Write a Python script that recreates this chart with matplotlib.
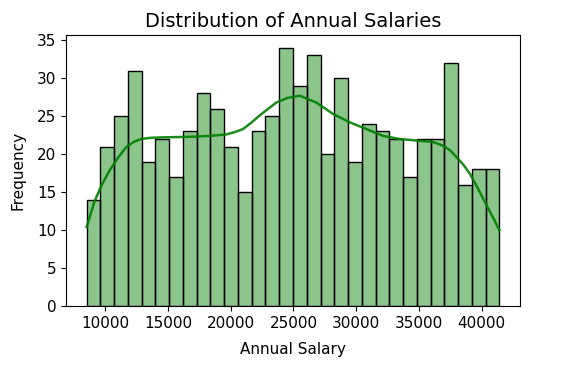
import matplotlib
matplotlib.use("Agg")
import matplotlib.pyplot as plt
import numpy as np

# Histogram data (30 bins)
bin_start = 8510
bin_end = 41414
counts = [14, 21, 25, 31, 19, 22, 17, 23, 28, 26, 21, 15, 23, 25, 34,
          29, 33, 20, 30, 19, 24, 23, 22, 17, 22, 22, 32, 16, 18, 18]

# KDE curve (salary, frequency scale)
kde_x = [8510, 9121, 9700, 10319, 11000, 11650, 12250, 12850, 13600, 14313,
         15600, 16974, 18300, 19636, 20300, 20967, 21600, 22300, 23000, 23630,
         24500, 25494, 26825, 28155, 29488, 30820, 32148, 33480, 34815,
         36142, 36940, 37500, 38010, 38550, 39073, 39600, 40135, 40800, 41414]
kde_y = [10.4, 13.7, 15.9, 17.8, 19.5, 20.9, 21.6, 22.0, 22.15, 22.2,
         22.25, 22.3, 22.4, 22.6, 22.9, 23.3, 24.1, 25.1, 26.0, 26.8,
         27.4, 27.7, 26.8, 25.3, 24.2, 23.3, 22.4, 22.0, 21.8,
         21.6, 21.1, 20.5, 19.6, 18.6, 17.4, 15.8, 14.1, 12.0, 10.0]

edges = np.linspace(bin_start, bin_end, len(counts) + 1)
widths = np.diff(edges)

fig = plt.figure(figsize=(5.76, 3.67), dpi=100)
ax = fig.add_axes([66/576, 1 - 306/367, (520 - 66)/576, (306 - 35)/367])

ax.bar(edges[:-1], counts, width=widths, align="edge",
       facecolor=(0, 0.5, 0, 0.45), edgecolor="black", linewidth=1.0)
ax.plot(kde_x, kde_y, color="green", linewidth=1.8, alpha=0.9)

span = bin_end - bin_start
ax.set_xlim(bin_start - 0.05 * span, bin_end + 0.05 * span)
ax.set_ylim(0, max(counts) * 1.05)
ax.set_xticks([10000, 15000, 20000, 25000, 30000, 35000, 40000])
ax.set_yticks([0, 5, 10, 15, 20, 25, 30, 35])
ax.tick_params(labelsize=11)
ax.set_title("Distribution of Annual Salaries", fontsize=14)
ax.set_xlabel("Annual Salary", fontsize=11, labelpad=8)
ax.set_ylabel("Frequency", fontsize=11, labelpad=8)

fig.savefig("out.png", dpi=100)
